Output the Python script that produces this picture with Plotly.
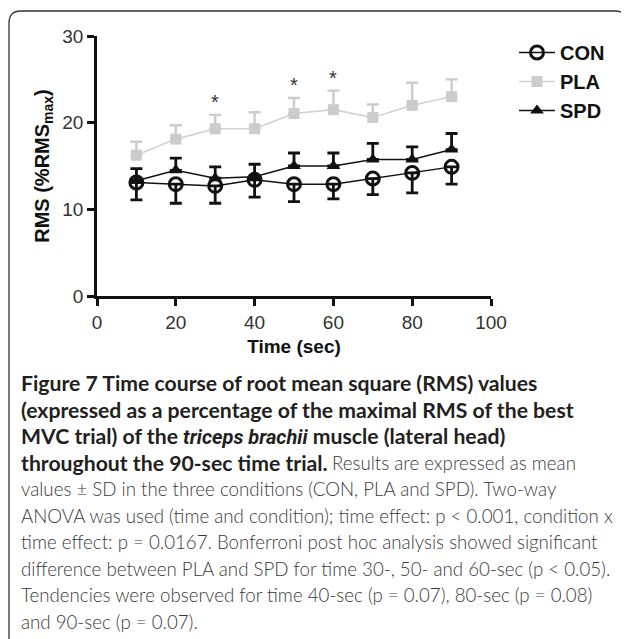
import plotly.graph_objects as go

# ---- data ----
time_s = [10, 20, 30, 40, 50, 60, 70, 80, 90]
con_mean = [13.1, 12.9, 12.7, 13.4, 12.9, 12.9, 13.55, 14.2, 14.9]
con_sd = [2.0, 2.2, 2.0, 2.0, 2.0, 1.7, 1.85, 2.3, 2.0]
pla_mean = [16.25, 18.1, 19.3, 19.3, 21.05, 21.5, 20.6, 22.0, 23.0]
pla_sd = [1.55, 1.6, 1.6, 1.9, 1.8, 2.2, 1.5, 2.6, 2.0]
spd_mean = [13.3, 14.5, 13.6, 13.75, 15.0, 15.0, 15.75, 15.75, 16.9]
spd_sd = [1.4, 1.4, 1.3, 1.45, 1.5, 1.5, 1.85, 1.45, 1.85]
sig_times = [30, 50, 60]

x_ticks = [0, 20, 40, 60, 80, 100]
y_ticks = [0, 10, 20, 30]

caption_bold = [
    "<b>Figure 7 Time course of root mean square (RMS) values</b>",
    "<b>(expressed as a percentage of the maximal RMS of the best</b>",
    "<b>MVC trial) of the <i><span style=\"font-family:Roboto;font-size:20px\">"
    "triceps brachii</span></i> muscle (lateral head)</b>",
    "<b>throughout the 90-sec time trial.</b>",
]
caption_rest_of_line4 = "Results are expressed as mean"
caption_regular = [
    "values ± SD in the three conditions (CON, PLA and SPD). Two-way",
    "ANOVA was used (time and condition); time effect: p &lt; 0.001, condition x",
    "time effect: p = 0.0167. Bonferroni post hoc analysis showed significant",
    "difference between PLA and SPD for time 30-, 50- and 60-sec (p &lt; 0.05).",
    "Tendencies were observed for time 40-sec (p = 0.07), 80-sec (p = 0.08)",
    "and 90-sec (p = 0.07).",
]

OFF = 8  # page body margin
W, H = 629 - OFF, 639 - OFF
ML, MT = 89, 28
PW, PH = 394, 260
MR, MB = W - ML - PW, H - MT - PH


def px_x(page_px):
    return (page_px - OFF - ML) / PW


def px_y(page_py):
    return 1 - (page_py - OFF - MT) / PH


fig = go.Figure()

fig.add_trace(go.Scatter(
    x=time_s, y=pla_mean, name="PLA", mode="lines+markers", legendrank=2,
    line=dict(color="#d2d2d2", width=1.6),
    marker=dict(symbol="square", size=11, color="#cccccc"),
    error_y=dict(type="data", symmetric=False, array=pla_sd,
                 arrayminus=[0] * len(pla_sd), color="#cccccc",
                 thickness=2.4, width=6),
))
fig.add_trace(go.Scatter(
    x=time_s, y=spd_mean, name="SPD", mode="lines+markers", legendrank=3,
    line=dict(color="#111111", width=1.5),
    marker=dict(symbol="triangle-up", size=12, color="#111111"),
    error_y=dict(type="data", symmetric=False, array=spd_sd,
                 arrayminus=[0] * len(spd_sd), color="#111111",
                 thickness=2.8, width=6),
))
fig.add_trace(go.Scatter(
    x=time_s, y=con_mean, name="CON", mode="lines+markers", legendrank=1,
    line=dict(color="#111111", width=1.5),
    marker=dict(symbol="circle-open", size=13, color="#111111",
                line=dict(width=3, color="#111111")),
    error_y=dict(type="data", symmetric=False, array=[0] * len(con_sd),
                 arrayminus=con_sd, color="#111111",
                 thickness=2.8, width=6),
))

for t in sig_times:
    i = time_s.index(t)
    fig.add_annotation(x=t, y=pla_mean[i] + pla_sd[i], text="*",
                       showarrow=False, yanchor="bottom", yshift=0,
                       font=dict(family="Liberation Sans, Arial", size=20,
                                 color="#333333"))

# caption
line_y = [383 + 26.5 * k for k in range(10)]
bold_font = dict(family="Lato", size=21.2, color="#231f20", weight="bold")
reg_font = dict(family="Lato", size=18.7, color="#3a3a3a", weight=300)
for txt, py in zip(caption_bold, line_y[:4]):
    fig.add_annotation(xref="paper", yref="paper", x=px_x(19), y=px_y(py),
                       xanchor="left", yanchor="middle", align="left",
                       showarrow=False, text=txt, font=bold_font)
fig.add_annotation(xref="paper", yref="paper", x=px_x(330), y=px_y(line_y[3]),
                   xanchor="left", yanchor="middle", align="left",
                   showarrow=False, text=caption_rest_of_line4, font=reg_font)
for txt, py in zip(caption_regular, line_y[4:]):
    fig.add_annotation(xref="paper", yref="paper", x=px_x(19), y=px_y(py),
                       xanchor="left", yanchor="middle", align="left",
                       showarrow=False, text=txt, font=reg_font)

# frame with rounded top corners
r = 12
x0, x1 = px_x(9), px_x(627)
yt, yb = px_y(11), px_y(660)
rx, ry = r / PW, r / PH
path = (f"M {x0} {yb} L {x0} {yt - ry} Q {x0} {yt} {x0 + rx} {yt} "
        f"L {x1 - rx} {yt} Q {x1} {yt} {x1} {yt - ry} L {x1} {yb}")
fig.add_shape(type="path", xref="paper", yref="paper", path=path,
              line=dict(color="#333333", width=1.3), layer="below")

axis_font = dict(family="Liberation Sans, Arial", size=19, color="#333333")
title_font = dict(family="Liberation Sans, Arial", size=19, color="#111111")
fig.update_layout(
    width=W, height=H,
    margin=dict(l=ML, r=MR, t=MT, b=MB),
    paper_bgcolor="white", plot_bgcolor="white",
    showlegend=True,
    legend=dict(x=px_x(514), y=px_y(33), xanchor="left", yanchor="top",
                font=dict(family="Liberation Sans, Arial", size=20,
                          color="#111111", weight="bold"),
                bgcolor="rgba(0,0,0,0)", itemwidth=36),
    xaxis=dict(range=[0, 100], tickvals=x_ticks, showgrid=False,
               zeroline=False, showline=True, linecolor="#111111",
               linewidth=2.5, ticks="outside", ticklen=7, tickwidth=2.5,
               tickcolor="#111111", tickfont=axis_font,
               title=dict(text="<b>Time (sec)</b>", standoff=9,
                          font=title_font)),
    yaxis=dict(range=[0, 30], tickvals=y_ticks, showgrid=False,
               zeroline=False, showline=True, linecolor="#111111",
               linewidth=2.5, ticks="outside", ticklen=7, tickwidth=2.5,
               tickcolor="#111111", tickfont=axis_font,
               title=dict(text="<b>RMS (%RMS<sub>max</sub>)</b>", standoff=8,
                          font=dict(family="Liberation Sans, Arial", size=20,
                                    color="#111111"))),
)

fig.write_html("out.html")
